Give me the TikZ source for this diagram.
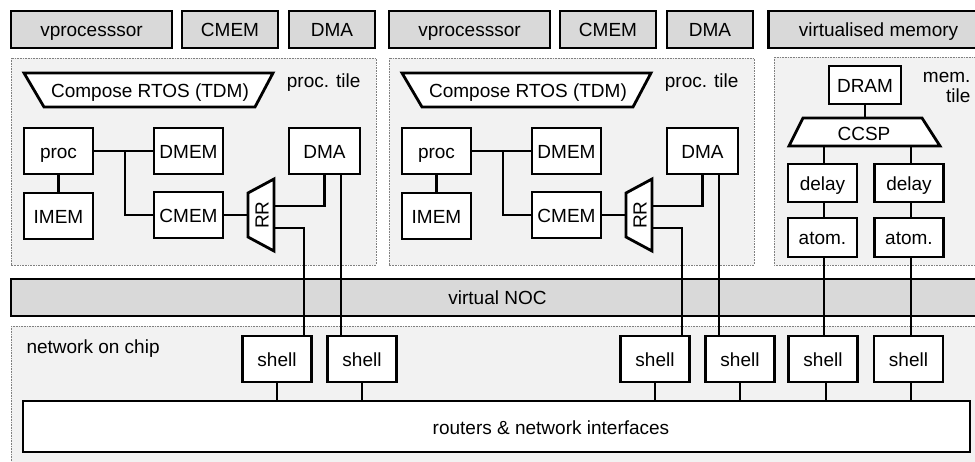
\documentclass[tikz,border=0pt]{standalone}
\usepackage{fontspec}
\setmainfont{Liberation Sans}
\definecolor{boxgray}{HTML}{D9D9D9}
\definecolor{tilegray}{HTML}{F2F2F2}
\tikzset{
 every node/.style={font=\fontsize{19}{20}\selectfont, text height=14pt, text depth=0pt},
 blk/.style={draw, line width=2.8pt, fill=white, inner sep=0pt, minimum width=69pt, minimum height=46pt},
 topbox/.style={draw, line width=2.8pt, fill=boxgray, inner sep=0pt, minimum height=37pt},
 tileregion/.style={draw=gray, line width=0.7pt, dash pattern=on 0.8pt off 0.8pt, fill=tilegray},
 wire/.style={line width=2.6pt},
 trap/.style={draw, line width=2.8pt, fill=white, line join=miter},
}
\begin{document}
\begin{tikzpicture}[x=1pt,y=-1pt]
\useasboundingbox (0,0) rectangle (975,461);
\clip (0,0) rectangle (975,461);
% network on chip region
\draw[tileregion] (11,326) rectangle (995,480);
\node[anchor=west] (noclbl) at (23,346) {network on chip};
\node[topbox, minimum width=973pt] (vnoc) at (497.5,297.5) {virtual NOC};
\node[blk, minimum width=947pt, minimum height=51pt] (routers) at (496.5,426.5) {};
\node (routerslbl) at (551,427) {routers \& network interfaces};
% processor tiles
\foreach \dx/\s in {0/a,378/b}{
 \begin{scope}[xshift=\dx pt]
  \draw[tileregion] (11,58) rectangle (376,265);
  \node[topbox, minimum width=161pt] (vp\s) at (91.5,29.5) {vprocesssor};
  \node[topbox, minimum width=96pt] (tc\s) at (230,29.5) {CMEM};
  \node[topbox, minimum width=86pt] (td\s) at (332,29.5) {DMA};
  \node[anchor=east] (pt\s) at (364,80) {proc. tile};
  \draw[trap] (24,73) -- (273,73) -- (255,107) -- (44,107) -- cycle;
  \node (rtos\s) at (150,90) {Compose RTOS (TDM)};
  \node[blk] (proc\s) at (58.5,151) {proc};
  \node[blk] (imem\s) at (58.5,216) {IMEM};
  \node[blk] (dmem\s) at (188.5,151) {DMEM};
  \node[blk] (cmem\s) at (188.5,215) {CMEM};
  \node[blk, minimum width=71pt] (dma\s) at (324.5,151) {DMA};
  \draw[trap] (248,193) -- (248,237) -- (274,251) -- (274,179) -- cycle;
  \node[rotate=90] (rr\s) at (261.5,215) {RR};
  \coordinate (rrin\s) at (248,215);
  \coordinate (rrA\s) at (274,206);
  \coordinate (rrB\s) at (274,228);
  \coordinate (jn\s) at (125,151);
  \node[blk] (sp\s) at (277,359) {shell};
  \node[blk] (sd\s) at (362,359) {shell};
 \end{scope}
 \coordinate (spin\s) at ([xshift=27pt]sp\s.north);
 \coordinate (dmaout\s) at ([xshift=16.5pt]dma\s.south);
 \draw[wire] (proc\s.east) -- (dmem\s.west);
 \draw[wire] (jn\s) |- (cmem\s.west);
 \draw[wire] (proc\s.south) -- (imem\s.north);
 \draw[wire] (cmem\s.east) -- (rrin\s);
 \draw[wire] (rrA\s) -| (dma\s.south);
 \draw[wire] (rrB\s) -| (spin\s);
 \draw[wire] (dmaout\s) -- (dmaout\s |- sd\s.north);
 \draw[wire] (sp\s.south) -- (sp\s.south |- routers.north);
 \draw[wire] (sd\s.south) -- (sd\s.south |- routers.north);
}
% memory tile
\draw[tileregion] (774,57) rectangle (995,265);
\node[topbox, minimum width=220pt] (vm) at (878.5,29.5) {virtualised memory};
\node[anchor=east, align=right, text height={}, text depth={}] (memlbl) at (974,87) {mem.\\tile};
\node[blk, minimum width=72pt, minimum height=38pt] (dram) at (865,85) {DRAM};
\draw[trap] (803,118) -- (922,118) -- (940,146) -- (789,146) -- cycle;
\node (ccsp) at (864,133) {CCSP};
\coordinate (ccspT) at (865,118);
\coordinate (ccspL) at (824,146);
\coordinate (ccspR) at (911,146);
\node[blk, minimum height=38pt] (del1) at (822.5,183) {delay};
\node[blk, minimum height=38pt] (del2) at (909,183) {delay};
\node[blk, minimum height=39pt] (at1) at (822.5,237.5) {atom.};
\node[blk, minimum height=39pt] (at2) at (909,237.5) {atom.};
\node[blk] (s5) at (823,359) {shell};
\node[blk] (s6) at (908.5,359) {shell};
\draw[wire] (dram.south) -- (ccspT);
\draw[wire] (ccspL) -- (ccspL |- del1.north);
\draw[wire] (ccspL |- del1.south) -- (ccspL |- at1.north);
\draw[wire] (ccspL |- at1.south) -- (ccspL |- s5.north);
\draw[wire] (ccspR) -- (ccspR |- del2.north);
\draw[wire] (ccspR |- del2.south) -- (ccspR |- at2.north);
\draw[wire] (ccspR |- at2.south) -- (ccspR |- s6.north);
\draw[wire] ([xshift=3pt]s5.south) -- ([xshift=3pt]s5.south |- routers.north);
\draw[wire] ([xshift=2.5pt]s6.south) -- ([xshift=2.5pt]s6.south |- routers.north);
\end{tikzpicture}
\end{document}
